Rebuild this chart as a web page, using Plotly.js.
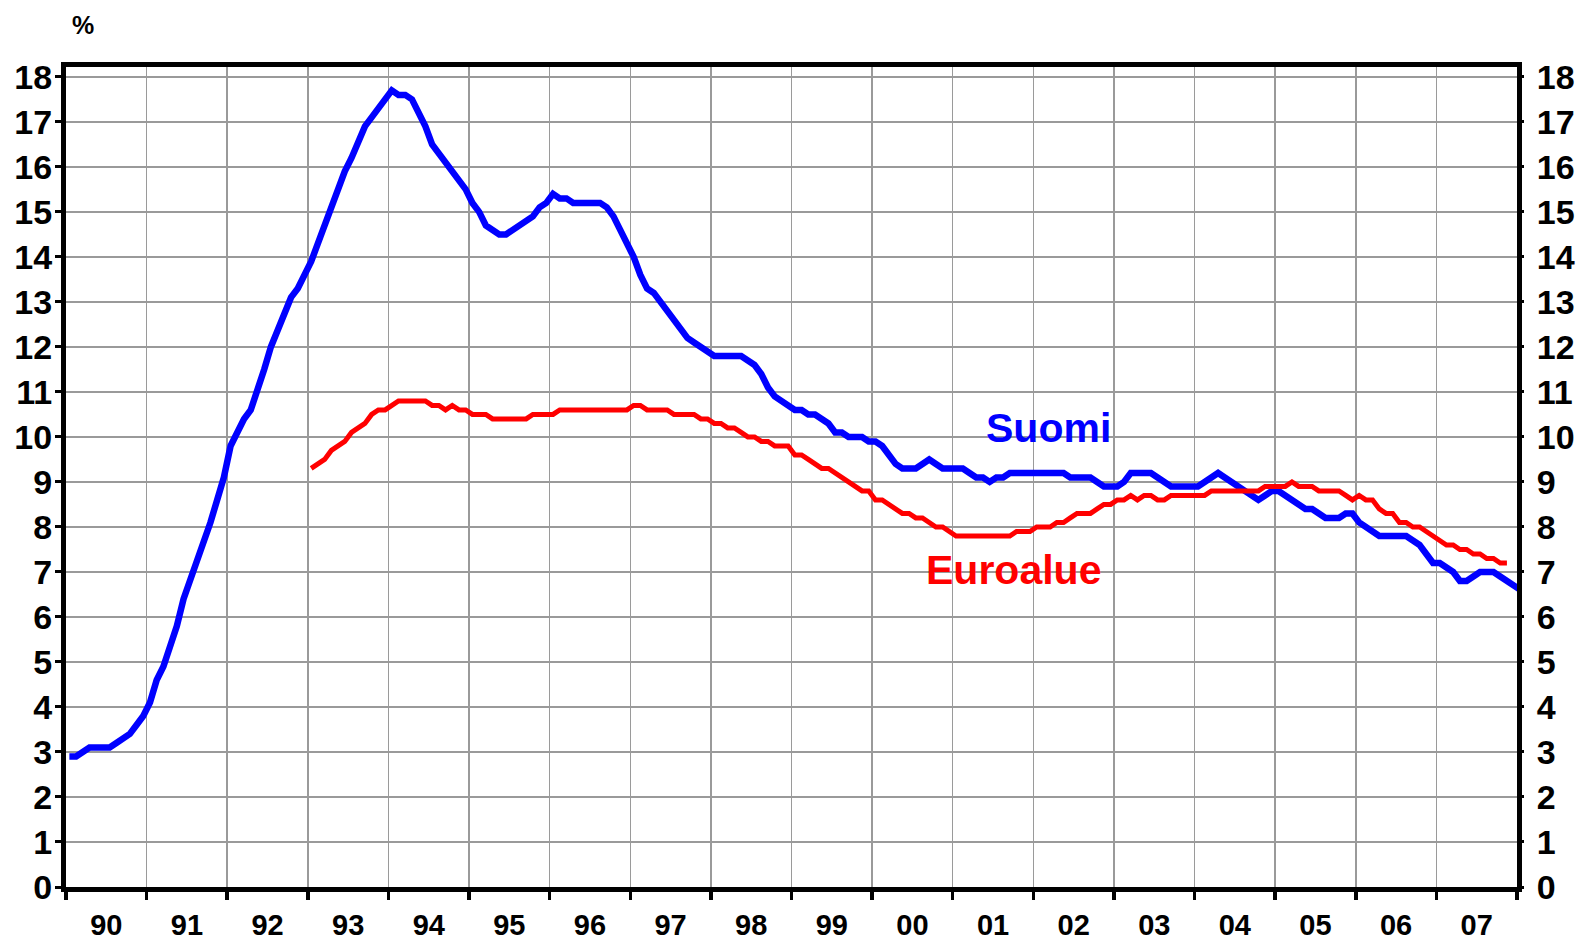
<!DOCTYPE html>
<html>
<head>
<meta charset="utf-8">
<script src="https://cdn.plot.ly/plotly-3.0.1.min.js"></script>
<style>
  html, body { margin: 0; padding: 0; background: #ffffff; }
  #chart { width: 1583px; height: 940px; }
</style>
</head>
<body>
<div id="chart"></div>
<script>
// Monthly unemployment rate (trend), %
// Suomi: from January 1990
const suomiStartYear = 1990;
const suomi = [
  2.9, 2.9, 3.0, 3.1, 3.1, 3.1, 3.1, 3.2, 3.3, 3.4, 3.6, 3.8,          // 1990
  4.1, 4.6, 4.9, 5.3, 5.8, 6.4, 6.8, 7.2, 7.7, 8.1, 8.6, 9.1,          // 1991
  9.8, 10.1, 10.4, 10.6, 11.0, 11.5, 12.0, 12.4, 12.7, 13.1, 13.3, 13.6, // 1992
  13.9, 14.3, 14.7, 15.2, 15.6, 15.9, 16.2, 16.6, 16.9, 17.1, 17.3, 17.5, // 1993
  17.7, 17.6, 17.6, 17.5, 17.2, 16.9, 16.5, 16.3, 16.1, 15.9, 15.7, 15.5, // 1994
  15.2, 15.0, 14.7, 14.6, 14.5, 14.5, 14.6, 14.7, 14.8, 14.9, 15.1, 15.2, // 1995
  15.4, 15.3, 15.3, 15.2, 15.2, 15.2, 15.2, 15.2, 15.1, 14.9, 14.6, 14.3, // 1996
  14.0, 13.6, 13.3, 13.2, 13.0, 12.8, 12.6, 12.4, 12.2, 12.1, 12.0, 11.9, // 1997
  11.8, 11.8, 11.8, 11.8, 11.8, 11.7, 11.6, 11.4, 11.1, 10.9, 10.8, 10.7, // 1998
  10.6, 10.6, 10.5, 10.5, 10.4, 10.3, 10.1, 10.1, 10.0, 10.0, 10.0, 9.9,  // 1999
  9.9, 9.8, 9.6, 9.4, 9.3, 9.3, 9.3, 9.4, 9.5, 9.4, 9.3, 9.3,           // 2000
  9.3, 9.3, 9.2, 9.1, 9.1, 9.0, 9.1, 9.1, 9.2, 9.2, 9.2, 9.2,           // 2001
  9.2, 9.2, 9.2, 9.2, 9.2, 9.1, 9.1, 9.1, 9.1, 9.0, 8.9, 8.9,           // 2002
  8.9, 9.0, 9.2, 9.2, 9.2, 9.2, 9.1, 9.0, 8.9, 8.9, 8.9, 8.9,           // 2003
  8.9, 9.0, 9.1, 9.2, 9.1, 9.0, 8.9, 8.8, 8.7, 8.6, 8.7, 8.8,           // 2004
  8.8, 8.7, 8.6, 8.5, 8.4, 8.4, 8.3, 8.2, 8.2, 8.2, 8.3, 8.3,           // 2005
  8.1, 8.0, 7.9, 7.8, 7.8, 7.8, 7.8, 7.8, 7.7, 7.6, 7.4, 7.2,           // 2006
  7.2, 7.1, 7.0, 6.8, 6.8, 6.9, 7.0, 7.0, 7.0, 6.9, 6.8, 6.7,           // 2007
  6.6                                                                  // 2008
];

// Euroalue: from January 1993
const euroStartYear = 1993;
const euroalue = [
  9.3, 9.4, 9.5, 9.7, 9.8, 9.9, 10.1, 10.2, 10.3, 10.5, 10.6, 10.6,      // 1993
  10.7, 10.8, 10.8, 10.8, 10.8, 10.8, 10.7, 10.7, 10.6, 10.7, 10.6, 10.6, // 1994
  10.5, 10.5, 10.5, 10.4, 10.4, 10.4, 10.4, 10.4, 10.4, 10.5, 10.5, 10.5, // 1995
  10.5, 10.6, 10.6, 10.6, 10.6, 10.6, 10.6, 10.6, 10.6, 10.6, 10.6, 10.6, // 1996
  10.7, 10.7, 10.6, 10.6, 10.6, 10.6, 10.5, 10.5, 10.5, 10.5, 10.4, 10.4, // 1997
  10.3, 10.3, 10.2, 10.2, 10.1, 10.0, 10.0, 9.9, 9.9, 9.8, 9.8, 9.8,     // 1998
  9.6, 9.6, 9.5, 9.4, 9.3, 9.3, 9.2, 9.1, 9.0, 8.9, 8.8, 8.8,           // 1999
  8.6, 8.6, 8.5, 8.4, 8.3, 8.3, 8.2, 8.2, 8.1, 8.0, 8.0, 7.9,           // 2000
  7.8, 7.8, 7.8, 7.8, 7.8, 7.8, 7.8, 7.8, 7.8, 7.9, 7.9, 7.9,           // 2001
  8.0, 8.0, 8.0, 8.1, 8.1, 8.2, 8.3, 8.3, 8.3, 8.4, 8.5, 8.5,           // 2002
  8.6, 8.6, 8.7, 8.6, 8.7, 8.7, 8.6, 8.6, 8.7, 8.7, 8.7, 8.7,           // 2003
  8.7, 8.7, 8.8, 8.8, 8.8, 8.8, 8.8, 8.8, 8.8, 8.8, 8.9, 8.9,           // 2004
  8.9, 8.9, 9.0, 8.9, 8.9, 8.9, 8.8, 8.8, 8.8, 8.8, 8.7, 8.6,           // 2005
  8.7, 8.6, 8.6, 8.4, 8.3, 8.3, 8.1, 8.1, 8.0, 8.0, 7.9, 7.8,           // 2006
  7.7, 7.6, 7.6, 7.5, 7.5, 7.4, 7.4, 7.3, 7.3, 7.2, 7.2                 // 2007
];

const years = [1990,1991,1992,1993,1994,1995,1996,1997,1998,1999,2000,2001,2002,2003,2004,2005,2006,2007,2008];
const yearLabels = ['90','91','92','93','94','95','96','97','98','99','00','01','02','03','04','05','06','07'];
const yTicks = [0,1,2,3,4,5,6,7,8,9,10,11,12,13,14,15,16,17,18];

const seriesNames = ['Suomi', 'Euroalue'];
const seriesColors = ['#0000ff', '#ff0000'];

function monthX(startYear, n) {
  const xs = [];
  for (let i = 0; i < n; i++) xs.push(startYear + (i + 0.5) / 12);
  return xs;
}

const traces = [
  { x: monthX(suomiStartYear, suomi.length), y: suomi, type: 'scatter', mode: 'lines',
    xaxis: 'x', yaxis: 'y',
    name: seriesNames[0], line: { color: seriesColors[0], width: 6.5 }, hoverinfo: 'skip' },
  { x: monthX(euroStartYear, euroalue.length), y: euroalue, type: 'scatter', mode: 'lines',
    xaxis: 'x2', yaxis: 'y2',
    name: seriesNames[1], line: { color: seriesColors[1], width: 5 }, hoverinfo: 'skip' }
];

const FONT = 'Liberation Sans, Arial, Helvetica, sans-serif';
const xRange = [years[0], years[years.length - 1]];
const yRange = [0, 18.22];
const tickFontY = { family: FONT, size: 34, weight: 'bold', color: '#000' };

const layout = {
  width: 1583, height: 940,
  margin: { l: 66, r: 66, t: 67, b: 53, pad: 0 },
  paper_bgcolor: '#ffffff', plot_bgcolor: '#ffffff',
  showlegend: false,
  font: { family: FONT, color: '#000000' },
  xaxis: {
    type: 'linear', range: xRange, tickmode: 'array', tickvals: years,
    showticklabels: false, ticks: 'outside', ticklen: 8, tickwidth: 3.5, tickcolor: '#000',
    showgrid: true, gridcolor: '#9a9a9a', gridwidth: 1.5,
    showline: true, linecolor: '#000', linewidth: 5, mirror: true, zeroline: false
  },
  xaxis2: {
    type: 'linear', overlaying: 'x', anchor: 'y2', side: 'bottom', range: xRange,
    tickmode: 'array', tickvals: yearLabels.map((_, i) => years[i] + 0.5), ticktext: yearLabels,
    ticks: '', showgrid: false, showline: false, zeroline: false,
    tickfont: { family: FONT, size: 29, weight: 'bold', color: '#000' },
    ticklabelstandoff: 18
  },
  yaxis: {
    range: yRange, tickmode: 'array', tickvals: yTicks,
    ticks: 'outside', ticklen: 6, tickwidth: 3, tickcolor: '#000',
    tickfont: tickFontY, ticklabelstandoff: -4,
    showgrid: true, gridcolor: '#9a9a9a', gridwidth: 1.5,
    showline: true, linecolor: '#000', linewidth: 5, mirror: true, zeroline: false
  },
  yaxis2: {
    overlaying: 'y', side: 'right', anchor: 'x2', range: yRange, tickmode: 'array', tickvals: yTicks,
    ticks: 'outside', ticklen: 6, tickwidth: 3, tickcolor: '#000',
    tickfont: tickFontY, ticklabelstandoff: 6,
    showgrid: false, showline: false, zeroline: false
  },
  annotations: [
    { text: '%', xref: 'paper', yref: 'paper', x: 0.0117, y: 1.051, xanchor: 'center', yanchor: 'middle',
      showarrow: false, font: { family: FONT, size: 25, weight: 'bold', color: '#000' } },
    { text: seriesNames[0], xref: 'x', yref: 'y', x: 2002.19, y: 10.2, xanchor: 'center', yanchor: 'middle',
      showarrow: false, font: { family: FONT, size: 41, weight: 'bold', color: seriesColors[0] } },
    { text: seriesNames[1], xref: 'x', yref: 'y', x: 2001.75, y: 7.05, xanchor: 'center', yanchor: 'middle',
      showarrow: false, font: { family: FONT, size: 41, weight: 'bold', color: seriesColors[1] } }
  ]
};

Plotly.newPlot('chart', traces, layout, { staticPlot: true, displayModeBar: false });
</script>
</body>
</html>
